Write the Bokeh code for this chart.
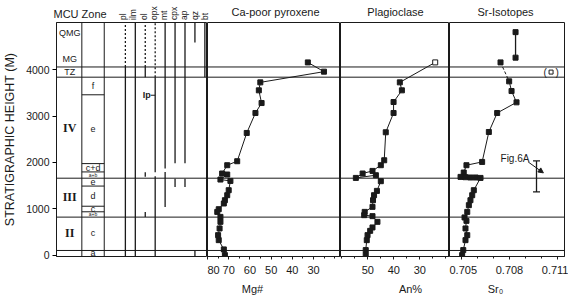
import math
from bokeh.plotting import figure
from bokeh.layouts import row, column
from bokeh.models import Range1d, FixedTicker, Arrow, NormalHead, Span
from bokeh.embed import file_html
from bokeh.resources import INLINE
from bokeh.core.properties import value

FONT = "Liberation Sans"
SERIF = "Liberation Serif"
INK = "#1a1a1a"

# ---------------- data ----------------
height_ticks = [0, 1000, 2000, 3000, 4000]
unit_boundaries = [100, 820, 1660, 3840, 4060]
mcu_units = ["QMG", "MG", "TZ", "IV", "III", "II"]
mcu_unit_heights = [4800, 4230, 3950, 2750, 1250, 470]
zone_boundaries = [3460, 1975, 1795, 1490, 1055, 935]
zone_names = ["f", "e", "c+d", "a+b", "e", "d", "c", "a+b", "c", "a"]
zone_heights = [3650, 2730, 1885, 1728, 1575, 1270, 995, 878, 470, 45]

minerals = ["pl", "ilm", "ol", "opx", "mt", "cpx", "ap", "qz", "bt"]
BASE, TOP = -30, 5020
mineral_present = {
    "pl": [(BASE, 4060)],
    "ilm": [(BASE, TOP)],
    "ol": [(3840, 4060), (1690, 1790), (820, 930)],
    "opx": [(BASE, 1700), (1790, 3840)],
    "mt": [(1040, 1795), (1870, TOP)],
    "cpx": [(1470, 1650), (1980, TOP)],
    "ap": [(1470, 1650), (1980, TOP)],
    "qz": [(BASE, 90), (4590, TOP)],
    "bt": [(3840, TOP)],
}
mineral_uncertain = {"pl": [(4060, TOP)], "ol": [(4060, TOP)], "opx": [(3840, TOP)]}
ip_height = 3450

mg_height = [4159, 3959, 3728, 3556, 3282, 3067, 2636, 2026, 1940, 1761, 1739, 1631, 1601,
             1401, 1293, 1185, 1114, 991, 933, 825, 718, 575, 431, 323, 123, 0]
mg_number = [32.7, 25.1, 55.1, 55.8, 54.5, 57.4, 61.5, 66.0, 70.7, 73.1, 70.7, 73.9, 69.2,
             70.0, 70.7, 71.8, 72.3, 74.7, 75.4, 73.9, 73.9, 74.3, 75.0, 74.7, 72.3, 71.8]

an_height = [4159, 3728, 3556, 3304, 3067, 2651, 2047, 1940, 1817, 1761, 1666, 1724, 1595,
             1386, 1293, 1185, 1041, 933, 862, 841, 718, 597, 524, 431, 323, 108, 0]
an_content = [24.1, 37.7, 36.9, 40.1, 40.1, 43.1, 43.7, 45.0, 48.2, 52.0, 54.6, 46.9, 45.0,
              46.5, 47.6, 48.0, 48.2, 51.2, 51.4, 48.2, 46.3, 48.2, 49.1, 50.1, 50.4, 50.8, 50.8]

sr_mg_height = [4812, 4261]
sr_mg_value = [0.70838, 0.70838]
sr_height = [4159, 3750, 3541, 3297, 3067, 2657, 2011, 1940, 1782, 1688, 1681, 1675, 1675,
             1666, 1401, 1293, 1185, 1078, 933, 813, 739, 575, 431, 323, 108, 0]
sr_value = [0.70744, 0.70798, 0.70813, 0.70844, 0.70723, 0.70671, 0.70629, 0.70531, 0.70514,
            0.70494, 0.70525, 0.70556, 0.70588, 0.70619, 0.70577, 0.70567, 0.70556, 0.70546,
            0.70536, 0.70519, 0.70531, 0.70525, 0.70536, 0.70525, 0.70511, 0.70504]
sr_a_height = [3950]
sr_a_value = [0.7106]
fig6a_value = 0.70969
fig6a_range = [1364, 2032]

mg_ticks = [30, 40, 50, 60, 70, 80]
mg_minor = [20, 25, 30, 35, 40, 45, 50, 55, 60, 65, 70, 75, 80]
an_ticks = [30, 40, 50]
an_minor = [20, 25, 30, 35, 40, 45, 50, 55, 60]
sr_ticks = [0.705, 0.708, 0.711]
sr_minor = [0.704, 0.705, 0.706, 0.707, 0.708, 0.709, 0.710, 0.711]

panel_titles = ["Ca-poor pyroxene", "Plagioclase", "Sr-Isotopes"]
axis_titles = ["Mg#", "An%", "Sr\u2080"]

# ---------------- layout constants ----------------
W = 568
HEAD_H, FOOT_H = 21, 16
MAIN_H = 296 - HEAD_H - FOOT_H
TOP_B, BOT_B = 1, 24
yr = Range1d(BASE, TOP)

LEFT_B = 52
MCU_X0, MCU_X1 = 0, 26
ZONE_X1 = 49
MIN_X0, MIN_DX = 70.7, 10.2
title_x = [275, 395, 505]
axis_title_x = [252, 410, 495]


def make(width, xr, left=0, right=0, xaxis=True, yaxis=False):
    p = figure(width=width, height=MAIN_H, x_range=xr, y_range=yr, output_backend="svg",
               toolbar_location=None, title=None,
               x_axis_location="below" if xaxis else None,
               y_axis_location="left" if yaxis else None,
               min_border_left=left, min_border_right=right,
               min_border_top=TOP_B, min_border_bottom=BOT_B)
    p.grid.visible = False
    p.outline_line_color = INK
    p.outline_line_width = 1
    p.background_fill_color = "white"
    p.border_fill_color = "white"
    for b in unit_boundaries:
        p.add_layout(Span(location=b, dimension="width", line_color=INK, line_width=1))
    return p


def style_xaxis(p, ticks, minor):
    ax = p.xaxis[0]
    ax.ticker = FixedTicker(ticks=ticks, minor_ticks=minor)
    ax.axis_line_color = INK
    ax.major_tick_line_color = INK
    ax.minor_tick_line_color = INK
    ax.major_tick_in = 0
    ax.major_tick_out = 3
    ax.minor_tick_in = 0
    ax.minor_tick_out = 2
    ax.major_label_standoff = 6
    ax.major_label_text_font = FONT
    ax.major_label_text_font_size = "11px"
    ax.major_label_text_color = INK


def strip(height):
    s = figure(width=W, height=height, x_range=Range1d(0, W), y_range=Range1d(height, 0),
               output_backend="svg", toolbar_location=None, title=None,
               x_axis_location=None, y_axis_location=None,
               min_border_left=0, min_border_right=0, min_border_top=0, min_border_bottom=0)
    s.grid.visible = False
    s.outline_line_color = None
    s.background_fill_color = "white"
    s.border_fill_color = "white"
    return s


# ---------------- header strip ----------------
head = strip(HEAD_H)
head.text(x=[LEFT_B + 1], y=[13], text=["MCU Zone"], text_align="left", text_baseline="middle",
          text_font=value(FONT), text_font_size="11px", text_color=INK)
head.text(x=[LEFT_B + MIN_X0 + i * MIN_DX for i in range(len(minerals))],
          y=[19.5] * len(minerals), text=minerals, angle=math.pi / 2, text_align="left",
          text_baseline="middle", text_font=value(FONT), text_font_size="8.5px", text_color=INK)
head.text(x=title_x, y=[11] * 3, text=panel_titles, text_align="center", text_baseline="middle",
          text_font=value(FONT), text_font_size="11px", text_color=INK)

# ---------------- footer strip ----------------
foot = strip(FOOT_H)
foot.text(x=axis_title_x, y=[8] * 3, text=axis_titles, text_align="center",
          text_baseline="middle", text_font=value(FONT), text_font_size="11px", text_color=INK)

# ---------------- left block: MCU / Zone / minerals ----------------
p1 = make(207, Range1d(0, 155), left=LEFT_B, xaxis=False, yaxis=True)
ya = p1.yaxis[0]
ya.ticker = FixedTicker(ticks=height_ticks, minor_ticks=[])
ya.axis_label = "STRATIGRAPHIC HEIGHT (M)"
ya.axis_label_text_font = FONT
ya.axis_label_text_font_style = "normal"
ya.axis_label_text_font_size = "12.5px"
ya.axis_label_text_color = INK
ya.axis_label_standoff = 6
ya.major_label_text_font = FONT
ya.major_label_text_font_size = "10.5px"
ya.major_label_text_color = INK
ya.major_label_standoff = 3
ya.major_tick_in = 0
ya.major_tick_out = 4
ya.axis_line_color = INK

for xv in (MCU_X1, ZONE_X1):
    p1.add_layout(Span(location=xv, dimension="height", line_color=INK, line_width=1))
p1.segment(x0=[MCU_X1] * len(zone_boundaries), x1=[ZONE_X1] * len(zone_boundaries),
           y0=zone_boundaries, y1=zone_boundaries, line_color=INK, line_width=1)

mcu_x = (MCU_X0 + MCU_X1) / 2 + 0.5
for name, h in zip(mcu_units, mcu_unit_heights):
    roman = name in ("IV", "III", "II")
    p1.text(x=[mcu_x], y=[h], text=[name], text_align="center", text_baseline="middle",
            text_font=value(SERIF if roman else FONT),
            text_font_size="12px" if roman else "9px", text_color=INK,
            text_font_style="bold" if roman else "normal")

zone_x = (MCU_X1 + ZONE_X1) / 2
for name, h in zip(zone_names, zone_heights):
    small = name == "a+b"
    p1.text(x=[zone_x], y=[h], text=[name], text_align="center", text_baseline="middle",
            text_font=value(FONT), text_font_size="5px" if small else "9px", text_color=INK)

for i, m in enumerate(minerals):
    xm = MIN_X0 + i * MIN_DX
    segs = mineral_present[m]
    p1.segment(x0=[xm] * len(segs), x1=[xm] * len(segs), y0=[s[0] for s in segs],
               y1=[s[1] for s in segs], line_color=INK, line_width=1.3)
    if m in mineral_uncertain:
        segs = mineral_uncertain[m]
        p1.segment(x0=[xm] * len(segs), x1=[xm] * len(segs), y0=[s[0] for s in segs],
                   y1=[s[1] for s in segs], line_color=INK, line_width=1.3, line_dash="2 2")

opx_x = MIN_X0 + minerals.index("opx") * MIN_DX
p1.segment(x0=[opx_x - 4.5], x1=[opx_x], y0=[ip_height], y1=[ip_height], line_color=INK)
p1.text(x=[opx_x - 4.5], y=[ip_height], text=["Ip"], text_align="right", text_baseline="middle",
        text_font=value(FONT), text_font_size="9px", text_color=INK, text_font_style="bold")

# ---------------- Ca-poor pyroxene ----------------
p2 = make(133, Range1d(80, 17.3))
p2.line(mg_number, mg_height, line_color=INK, line_width=1)
p2.square(mg_number, mg_height, size=5, fill_color=INK, line_color=INK)
style_xaxis(p2, mg_ticks, mg_minor)

# ---------------- Plagioclase ----------------
p3 = make(109, Range1d(60.5, 18.6))
p3.line(an_content, an_height, line_color=INK, line_width=1)
p3.square(an_content[1:], an_height[1:], size=5, fill_color=INK, line_color=INK)
p3.square(an_content[:1], an_height[:1], size=5, fill_color="white", line_color=INK)
style_xaxis(p3, an_ticks, an_minor)

# ---------------- Sr isotopes ----------------
p4 = make(119, Range1d(0.70425, 0.71144), right=4)
p4.line(sr_mg_value, sr_mg_height, line_color=INK, line_width=1.3)
p4.square(sr_mg_value, sr_mg_height, size=5, fill_color=INK, line_color=INK)
p4.line(sr_value[:2], sr_height[:2], line_color=INK, line_width=1, line_dash="3 2")
p4.line(sr_value[1:], sr_height[1:], line_color=INK, line_width=1)
p4.square(sr_value, sr_height, size=5, fill_color=INK, line_color=INK)
p4.square(sr_a_value, sr_a_height, size=4, fill_color="white", line_color=INK)
p4.text(x=sr_a_value, y=sr_a_height, text=["("], x_offset=-6, text_align="center",
        text_baseline="middle", text_font=value(FONT), text_font_size="10px", text_color=INK)
p4.text(x=sr_a_value, y=sr_a_height, text=[")"], x_offset=6, text_align="center",
        text_baseline="middle", text_font=value(FONT), text_font_size="10px", text_color=INK)
p4.segment(x0=[fig6a_value], x1=[fig6a_value], y0=[fig6a_range[0]], y1=[fig6a_range[1]],
           line_color=INK, line_width=1.3)
p4.dash(x=[fig6a_value, fig6a_value], y=fig6a_range, size=7, line_color=INK, line_width=1.3)
p4.text(x=[0.70744], y=[2090], text=["Fig.6A"], text_align="left", text_baseline="middle",
        text_font=value(FONT), text_font_size="10px", text_color=INK)
p4.add_layout(Arrow(x_start=0.70917, y_start=2010, x_end=0.71012, y_end=1775,
                    line_color=INK, line_width=1,
                    end=NormalHead(size=5, line_color=INK, fill_color=INK)))
style_xaxis(p4, sr_ticks, sr_minor)

layout = column(head, row(p1, p2, p3, p4, spacing=0), foot, spacing=0)
open("out.html", "w").write(file_html(layout, INLINE))
